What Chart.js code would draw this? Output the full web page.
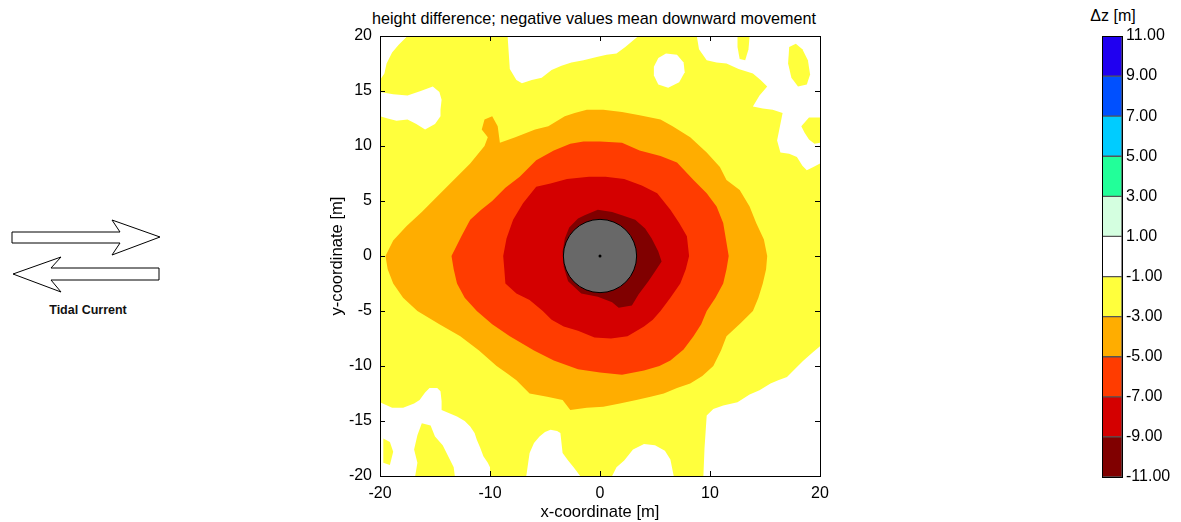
<!DOCTYPE html>
<html>
<head>
<meta charset="utf-8">
<title>height difference</title>
<script src="https://cdn.jsdelivr.net/npm/chart.js@4/dist/chart.umd.min.js"></script>
<style>
  body { margin: 0; background: #fff; font-family: "Liberation Sans", Arial, sans-serif; }
  #page { position: relative; width: 1181px; height: 522px; overflow: hidden; }
  #mapBox { position: absolute; left: 310px; top: 0; width: 580px; height: 522px; }
  #barBox { position: absolute; left: 1090px; top: 0; width: 91px; height: 522px; }
  #arrows { position: absolute; left: 0; top: 210px; }
  #tideLabel { position: absolute; left: 48px; top: 303px; width: 80px; text-align: center; font-size: 12.5px; font-weight: bold; color: #111; }
  #mapTitle { position: absolute; left: 294px; top: 8px; width: 600px; text-align: center; white-space: nowrap; font-size: 16.2px; line-height: 20px; color: #000; }
  #barTitle { position: absolute; left: 1073px; top: 7px; width: 80px; text-align: center; font-size: 16px; color: #000; }
</style>
</head>
<body>
<div id="page">
  <svg id="arrows" width="170" height="90">
    <polygon points="12,22 120,22 112,10 160,27 112,45 120,33 12,33" fill="#fff" stroke="#000" stroke-width="1"></polygon>
    <polygon points="159,58 51,58 61,47 13,64 61,82 51,70 159,70" fill="#fff" stroke="#000" stroke-width="1"></polygon>
  </svg>
  <div id="tideLabel">Tidal Current</div>
  <div id="mapTitle">height difference; negative values mean downward movement</div>
  <div id="mapBox"><canvas id="mapChart"></canvas></div>
  <div id="barTitle">Δz [m]</div>
  <div id="barBox"><canvas id="barChart"></canvas></div>
</div>
<script>
// tick values
const xTicks = [-20, -10, 0, 10, 20];
const yTicks = [-20, -15, -10, -5, 0, 5, 10, 15, 20];
const levelTicks = [-11, -9, -7, -5, -3, -1, 1, 3, 5, 7, 9, 11];
const levelColors = ["#800000", "#d40000", "#ff3c00", "#ffad00", "#ffff3c", "#ffffff",
  "#d4ffe0", "#22ff99", "#00ccff", "#0050ff", "#2000f0"];

// pile radius [m]
const pileRadius = 3.33;

// contour outlines, [x, y] in metres
const plotFrame = [[-20, -20], [20, -20], [20, 20], [-20, 20]];

const whiteTopLeft = [[-20, 20], [-17.5, 20], [-18.3, 19.2], [-18.9, 18.5], [-19.4, 17.5], [-19.6, 16.6], [-20, 16]];
const whiteLeft = [[-20, 14.9], [-18.8, 14.7], [-17.5, 14.6], [-16.3, 15.0], [-15.2, 15.4], [-14.6, 14.9], [-14.4, 14.2],
  [-14.5, 13.3], [-14.5, 12.7], [-15.0, 12.0], [-15.9, 11.5], [-16.7, 12.0], [-17.5, 12.4], [-18.5, 12.3], [-19.3, 12.5], [-20, 12.7]];
const whiteTopCenter = [[-8.4, 20], [-8.3, 18.5], [-8.2, 17.0], [-7.6, 16.0], [-7.1, 15.7], [-6.2, 16.0], [-5.3, 16.2],
  [-4.4, 16.9], [-3.5, 17.3], [-2.6, 17.6], [-1.5, 17.8], [-0.3, 18.1], [0.6, 18.3], [1.5, 18.4], [2.3, 19.0], [3.0, 19.6], [3.5, 20]];
const whiteIsland = [[4.9, 17.2], [5.3, 18.0], [6.0, 18.4], [7.0, 18.3], [7.6, 17.6], [7.7, 16.7], [7.2, 15.8],
  [6.2, 15.3], [5.3, 15.6], [4.9, 16.4]];
const whiteTopRight = [[8.8, 20], [9.0, 18.8], [9.7, 17.8], [10.6, 17.6], [11.5, 17.5], [12.6, 17.0], [13.9, 16.6],
  [14.6, 16.0], [15.2, 15.4], [14.5, 14.6], [13.9, 13.6], [14.8, 13.4], [15.7, 13.3], [16.6, 13.0], [16.4, 12.0],
  [16.1, 10.5], [16.4, 9.4], [17.2, 9.3], [17.9, 9.0], [18.4, 8.2], [18.8, 7.8], [19.4, 8.1], [20, 8.4], [20, 20]];
const whiteBottomLeft = [[-20, -13.3], [-18.9, -13.8], [-17.9, -13.8], [-16.9, -13.4], [-16.4, -13.1], [-15.9, -12.4],
  [-15.5, -12.0], [-14.8, -12.0], [-14.5, -12.3], [-14.4, -13.2], [-14.4, -14.0], [-13.7, -14.3], [-13.0, -14.6],
  [-12.3, -15.0], [-11.8, -15.5], [-11.4, -16.1], [-11.2, -16.7], [-10.9, -17.4], [-10.6, -18.2], [-10.2, -18.8],
  [-10.0, -19.2], [-10.0, -20], [-20, -20]];
const whiteBottomMid = [[-6.7, -20], [-6.5, -18.6], [-6.4, -17.9], [-6.0, -17.0], [-5.5, -16.4], [-5.0, -16.0],
  [-4.5, -15.8], [-3.9, -15.9], [-3.6, -16.1], [-3.5, -17.0], [-3.4, -17.9], [-2.9, -18.6], [-2.4, -19.2], [-1.8, -20]];
const whiteBottomMid2 = [[1.1, -20], [1.5, -19.2], [2.2, -18.6], [3.0, -17.6], [4.0, -17.1], [5.0, -17.2],
  [5.9, -17.7], [6.4, -18.5], [6.7, -20]];
const whiteBottomRight = [[20, -8.2], [19.3, -8.8], [18.5, -9.5], [17.7, -10.3], [17.0, -11.0], [16.2, -11.3],
  [15.5, -11.6], [14.5, -12.2], [13.6, -12.6], [12.5, -13.3], [11.2, -13.6], [10.3, -13.9], [9.7, -14.5],
  [9.6, -16.0], [9.5, -17.5], [9.4, -20], [20, -20]];

const yellowStrip = [[12.5, 20], [13.6, 20], [13.5, 18.8], [13.2, 17.8], [12.7, 17.9], [12.5, 19.0]];
const yellowPatchTop = [[17.2, 19.0], [17.8, 19.3], [18.4, 18.8], [18.9, 17.8], [19.1, 16.5], [18.8, 15.6],
  [18.0, 15.4], [17.4, 16.2], [17.1, 17.5]];
const yellowPatchRight = [[18.3, 11.8], [19.0, 12.6], [20, 12.6], [20, 10.3], [19.5, 10.2], [19.0, 10.6], [18.6, 11.2]];
const yellowPatchBottom = [[-16.2, -15.2], [-15.4, -15.4], [-15.0, -16.4], [-14.3, -17.2], [-13.8, -18.2],
  [-13.3, -19.2], [-13.2, -20], [-16.8, -20], [-16.6, -18.8], [-16.9, -17.6], [-16.6, -16.3]];
const yellowSpeck = [[-19.7, -16.6], [-19.1, -16.9], [-18.8, -17.8], [-19.1, -19.0], [-19.7, -18.8]];

const contourMinus3 = [[-19.5, 0], [-19.3, -1.2], [-18.8, -2.5], [-17.9, -3.8], [-16.6, -5], [-14.6, -6.2],
  [-12.7, -7.3], [-11.0, -8.6], [-9.4, -10], [-8.4, -10.7], [-7.6, -11.3], [-6.4, -12.5], [-4.8, -12.8],
  [-3.4, -13.1], [-2.7, -14.0], [-1.2, -13.8], [0.3, -13.7], [1.8, -13.4], [3.3, -13.1], [4.6, -12.8],
  [5.8, -12.5], [7.0, -12.0], [8.2, -11.6], [9.3, -10.9], [10.3, -10.0], [11.0, -8.6], [11.5, -7.3],
  [12.8, -6.1], [13.9, -5], [14.4, -3.8], [14.8, -2.5], [15.1, -1.2], [15.2, 0], [14.9, 1.5], [14.2, 3.0],
  [13.6, 4.5], [12.7, 6.0], [11.5, 6.9], [10.9, 8.1], [9.7, 9.4], [8.2, 10.8], [6.6, 11.8], [5.5, 12.4],
  [3.6, 12.8], [2.0, 13.1], [0.3, 13.3], [-1.2, 13.3], [-2.3, 13.0], [-3.2, 12.7], [-4.7, 11.8], [-5.9, 11.5],
  [-7.7, 10.8], [-9.1, 10.3], [-9.3, 11.8], [-9.8, 12.7], [-10.5, 12.4], [-10.75, 11.5], [-10.2, 10.8],
  [-10.5, 10.0], [-11.8, 8.4], [-13.3, 6.9], [-14.8, 5.4], [-16.2, 4.0], [-17.6, 2.7], [-18.8, 1.4]];
const contourMinus5 = [[-13.5, 0], [-13.3, -1.2], [-13.0, -2.5], [-12.3, -3.8], [-11.2, -5], [-9.8, -6.2],
  [-8.2, -7.3], [-7.0, -8.0], [-6.0, -8.6], [-4.2, -9.5], [-2.0, -10.3], [0, -10.6], [2.0, -10.8], [4.0, -10.4],
  [5.4, -10.0], [6.4, -9.5], [7.6, -8.5], [8.5, -7.3], [9.2, -6.2], [9.7, -5], [10.5, -3.8], [11.2, -2.5],
  [11.5, -1.2], [11.7, 0], [11.5, 1.2], [11.2, 3.0], [10.6, 4.5], [9.7, 5.7], [8.5, 6.9], [7.0, 8.5], [5.5, 9.1],
  [3.6, 9.6], [2.0, 10.3], [0, 10.4], [-1.5, 10.4], [-2.7, 10.2], [-4.2, 9.6], [-5.8, 8.7], [-7.3, 7.2],
  [-8.6, 6.2], [-9.8, 5.0], [-10.8, 4.2], [-11.8, 3.3], [-12.6, 1.8]];
const contourMinus7 = [[-8.8, 0], [-8.7, -1.2], [-8.6, -2.5], [-7.6, -3.4], [-6.4, -4.0], [-5.2, -5.0],
  [-4.4, -5.8], [-3.3, -6.4], [-2.0, -6.8], [-0.5, -7.4], [1.0, -7.5], [2.5, -7.3], [4.0, -6.4], [4.8, -5.8],
  [5.5, -5.0], [6.4, -3.8], [7.3, -2.5], [7.8, -1.2], [8.1, 0], [7.9, 1.8], [7.2, 3.0], [6.4, 4.2], [5.2, 5.7],
  [3.8, 6.4], [2.2, 7.0], [0.5, 7.2], [-1.0, 7.2], [-3.0, 7.0], [-4.5, 6.6], [-5.8, 6.3], [-7.0, 4.8],
  [-7.9, 3.3], [-8.5, 1.6]];
const contourMinus9 = [[-3.4, 0.4], [-3.2, 1.6], [-2.8, 2.6], [-2.0, 3.4], [-1.4, 3.7], [-0.2, 4.2], [1.1, 4.0],
  [2.0, 3.7], [3.2, 3.3], [4.1, 2.5], [4.7, 1.6], [5.3, 0.4], [5.6, -0.5], [5.0, -1.4], [4.4, -2.3], [3.5, -3.5],
  [2.9, -4.5], [1.7, -4.7], [1.1, -4.2], [-0.2, -3.7], [-1.7, -3.4], [-2.9, -2.3], [-3.3, -1.0]];

// painting order, bottom first
const layers = [
  [plotFrame, levelColors[4]],
  [whiteTopLeft, levelColors[5]],
  [whiteLeft, levelColors[5]],
  [whiteTopCenter, levelColors[5]],
  [whiteIsland, levelColors[5]],
  [whiteTopRight, levelColors[5]],
  [whiteBottomLeft, levelColors[5]],
  [whiteBottomMid, levelColors[5]],
  [whiteBottomMid2, levelColors[5]],
  [whiteBottomRight, levelColors[5]],
  [yellowStrip, levelColors[4]],
  [yellowPatchTop, levelColors[4]],
  [yellowPatchRight, levelColors[4]],
  [yellowPatchBottom, levelColors[4]],
  [yellowSpeck, levelColors[4]],
  [contourMinus3, levelColors[3]],
  [contourMinus5, levelColors[2]],
  [contourMinus7, levelColors[1]],
  [contourMinus9, levelColors[0]]
];

const fontFamily = "'Liberation Sans', Arial, sans-serif";

let datasets = [];
for (let i = 0; i < layers.length; i++) {
  let pts = layers[i][0].map(p => ({ x: p[0], y: p[1] }));
  pts.push(pts[0]);
  datasets.push({
    data: pts,
    showLine: true,
    fill: "shape",
    backgroundColor: layers[i][1],
    borderColor: "transparent",
    borderWidth: 0,
    pointRadius: 0,
    tension: 0,
    order: 100 - i
  });
}

// the pile, radius taken from the x scale
datasets.push({
  data: [{ x: 0, y: 0 }],
  showLine: false,
  pointRadius: ctx => {
    let sx = ctx.chart.scales.x;
    return sx.getPixelForValue(pileRadius) - sx.getPixelForValue(0);
  },
  pointBackgroundColor: "#686868",
  pointBorderColor: "#000",
  pointBorderWidth: 1,
  order: 2
});
datasets.push({
  data: [{ x: 0, y: 0 }],
  showLine: false,
  pointRadius: 1.5,
  pointBackgroundColor: "#000",
  pointBorderWidth: 0,
  order: 1
});

// box with inward ticks on all four sides
const boxTicks = {
  id: "boxTicks",
  afterDatasetsDraw(chart) {
    let ctx = chart.ctx;
    let a = chart.chartArea;
    let sx = chart.scales.x;
    let sy = chart.scales.y;
    ctx.save();
    ctx.strokeStyle = "#000";
    ctx.lineWidth = 1;
    ctx.beginPath();
    xTicks.forEach(v => {
      let px = Math.round(sx.getPixelForValue(v)) + 0.5;
      ctx.moveTo(px, a.bottom); ctx.lineTo(px, a.bottom - 5);
      ctx.moveTo(px, a.top); ctx.lineTo(px, a.top + 5);
    });
    yTicks.forEach(v => {
      let py = Math.round(sy.getPixelForValue(v)) + 0.5;
      ctx.moveTo(a.left, py); ctx.lineTo(a.left + 5, py);
      ctx.moveTo(a.right, py); ctx.lineTo(a.right - 5, py);
    });
    ctx.stroke();
    ctx.strokeRect(Math.round(a.left) + 0.5, Math.round(a.top) + 0.5, Math.round(a.right - a.left), Math.round(a.bottom - a.top));
    ctx.restore();
  }
};

new Chart(document.getElementById("mapChart"), {
  type: "scatter",
  data: { datasets: datasets },
  plugins: [boxTicks],
  options: {
    responsive: true,
    maintainAspectRatio: false,
    animation: false,
    events: [],
    layout: { padding: { left: 0, right: 70, top: 36, bottom: 0 }, autoPadding: false },
    plugins: {
      legend: { display: false },
      tooltip: { enabled: false },
      title: { display: false }
    },
    scales: {
      x: {
        type: "linear",
        min: -20,
        max: 20,
        afterBuildTicks: scale => { scale.ticks = xTicks.map(v => ({ value: v })); },
        afterFit: scale => { scale.height = 46; },
        grid: { display: false, drawTicks: false },
        border: { display: false },
        ticks: { color: "#000", padding: 8, maxRotation: 0, font: { family: fontFamily, size: 16 } },
        title: {
          display: true,
          text: "x-coordinate [m]",
          color: "#000",
          font: { family: fontFamily, size: 16.6 },
          padding: { top: 0, bottom: 0 }
        }
      },
      y: {
        type: "linear",
        min: -20,
        max: 20,
        afterBuildTicks: scale => { scale.ticks = yTicks.map(v => ({ value: v })); },
        afterFit: scale => { scale.width = 70; },
        grid: { display: false, drawTicks: false },
        border: { display: false },
        ticks: { color: "#000", padding: 8, font: { family: fontFamily, size: 16 } },
        title: {
          display: true,
          text: "y-coordinate [m]",
          color: "#000",
          font: { family: fontFamily, size: 16.6 },
          padding: { top: 17, bottom: 0 }
        }
      }
    }
  }
});

// colour bar: one floating bar per level band
let barSets = [];
for (let i = 0; i < levelColors.length; i++) {
  barSets.push({
    data: [[levelTicks[i], levelTicks[i + 1]]],
    backgroundColor: levelColors[i],
    borderColor: "#555",
    borderWidth: 1,
    borderSkipped: false,
    grouped: false,
    barPercentage: 1,
    categoryPercentage: 1
  });
}

const barFrame = {
  id: "barFrame",
  afterDatasetsDraw(chart) {
    let ctx = chart.ctx;
    let a = chart.chartArea;
    ctx.save();
    ctx.strokeStyle = "#000";
    ctx.lineWidth = 1;
    ctx.strokeRect(Math.round(a.left) + 0.5, Math.round(a.top) + 0.5, Math.round(a.right - a.left), Math.round(a.bottom - a.top));
    ctx.restore();
  }
};

new Chart(document.getElementById("barChart"), {
  type: "bar",
  data: { labels: ["Δz"], datasets: barSets },
  plugins: [barFrame],
  options: {
    responsive: true,
    maintainAspectRatio: false,
    animation: false,
    events: [],
    layout: { padding: { left: 12, right: 0, top: 36, bottom: 45 }, autoPadding: false },
    plugins: { legend: { display: false }, tooltip: { enabled: false } },
    scales: {
      x: { display: false },
      y: {
        position: "right",
        min: -11,
        max: 11,
        afterBuildTicks: scale => { scale.ticks = levelTicks.map(v => ({ value: v })); },
        afterFit: scale => { scale.width = 59; },
        grid: { display: false, drawTicks: false },
        border: { display: false },
        ticks: {
          color: "#000",
          padding: 4,
          font: { family: fontFamily, size: 16 },
          callback: v => Number(v).toFixed(2)
        }
      }
    }
  }
});
</script>
</body>
</html>
